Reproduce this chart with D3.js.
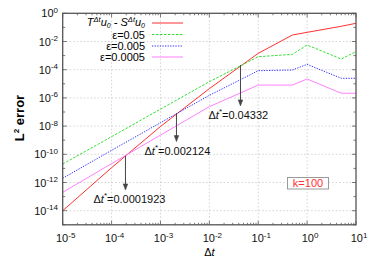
<!DOCTYPE html>
<html><head><meta charset="utf-8">
<script src="https://cdn.jsdelivr.net/npm/d3@7"></script>
<style>
body{margin:0;background:#fff;}
text{font-family:"Liberation Sans",Arial,sans-serif;}
</style></head>
<body><svg id="c" width="374" height="262"></svg>
<script>
// ---- data ----
const dt = [1e-5, 1e-4, 1e-3, 1e-2, 1e-1, 0.5, 1, 5, 10];
const errTS   = [-14.0, -10.95, -8.03, -5.34, -2.84, -1.54, -1.35, -0.92, -0.71].map(v => Math.pow(10, v));
const errE05  = [-10.69, -8.75, -6.8, -4.85, -3.08, -2.91, -2.25, -3.24, -2.72].map(v => Math.pow(10, v));
const errE005 = [-11.7, -9.72, -7.76, -5.82, -4.07, -4.02, -3.62, -4.61, -4.61].map(v => Math.pow(10, v));
const errE0005= [-12.7, -10.66, -8.64, -6.62, -5.09, -5.09, -4.66, -5.67, -5.67].map(v => Math.pow(10, v));
const legLabels = ["ε=0.05", "ε=0.005", "ε=0.0005"];
const crossDt = [0.0001923, 0.002124, 0.04332];
const crossErr = [-10.1, -7.09, -3.67].map(v => Math.pow(10, v));
const arrowEnd = [-12.53, -9.1, -6.57].map(v => Math.pow(10, v));
const crossLabels = ["0.0001923", "0.002124", "0.04332"];
const xTickExp = [-5, -4, -3, -2, -1, 0, 1];
const yTickExp = [0, -2, -4, -6, -8, -10, -12, -14];

// ---- layout ----
const svg = d3.select("#c");
const L = 62.7, R = 356, T = 13.3, B = 224.8;
const x = d3.scaleLog().domain([1e-5, 10]).range([L, R]);
const y = d3.scaleLog().domain([1e-15, 1]).range([B, T]);
const axisCol = "#555";

// grid
const grid = svg.append("g").attr("stroke", "#c8c8c8").attr("stroke-width", 0.8).attr("stroke-dasharray", "1.5,2");
xTickExp.slice(1, -1).forEach(e => grid.append("line").attr("x1", x(Math.pow(10, e))).attr("x2", x(Math.pow(10, e))).attr("y1", T).attr("y2", B));
yTickExp.slice(1).forEach(e => grid.append("line").attr("x1", L).attr("x2", R).attr("y1", y(Math.pow(10, e))).attr("y2", y(Math.pow(10, e))));

// ticks (inward, all four sides)
const tk = svg.append("g").attr("stroke", axisCol).attr("stroke-width", 0.8);
for (let e = -5; e <= 1; e++) {
  for (let m = 1; m <= 9; m++) {
    const v = m * Math.pow(10, e);
    if (v > 10) break;
    const len = m === 1 ? 4 : 2;
    const xp = x(v);
    tk.append("line").attr("x1", xp).attr("x2", xp).attr("y1", B).attr("y2", B - len);
    tk.append("line").attr("x1", xp).attr("x2", xp).attr("y1", T).attr("y2", T + len);
  }
}
for (let e = -15; e <= 0; e++) {
  const yp = y(Math.pow(10, e));
  const len = (e % 2 === 0) ? 4 : 2.5;
  tk.append("line").attr("x1", L).attr("x2", L + len).attr("y1", yp).attr("y2", yp);
  tk.append("line").attr("x1", R).attr("x2", R - len).attr("y1", yp).attr("y2", yp);
}

// series
svg.append("clipPath").attr("id", "pc").append("rect").attr("x", L).attr("y", T).attr("width", R - L).attr("height", B - T);
const line = d3.line().x(d => x(d[0])).y(d => y(d[1]));
const series = [
  {vals: errTS, color: "#ff3030", dash: null, w: 1},
  {vals: errE05, color: "#30e030", dash: "2.5,1.5", w: 1},
  {vals: errE005, color: "#3030ff", dash: "1.3,1.3", w: 1},
  {vals: errE0005, color: "#ff80ff", dash: null, w: 1}
];
const pg = svg.append("g").attr("clip-path", "url(#pc)");
series.forEach(s => {
  pg.append("path").datum(dt.map((d, i) => [d, s.vals[i]]))
    .attr("d", line).attr("fill", "none").attr("stroke", s.color)
    .attr("stroke-width", s.w).attr("stroke-dasharray", s.dash);
});

// frame
svg.append("rect").attr("x", L).attr("y", T).attr("width", R - L).attr("height", B - T)
  .attr("fill", "none").attr("stroke", axisCol).attr("stroke-width", 1.3);

// tick labels
function pow10(sel, e, anchor) {
  const t = sel.append("text").attr("font-size", 11).attr("fill", "#111").attr("text-anchor", anchor);
  t.append("tspan").text("10");
  t.append("tspan").attr("font-size", 8).attr("dy", -4.5).text(e);
  return t;
}
xTickExp.forEach(e => {
  pow10(svg, e, "middle").attr("x", x(Math.pow(10, e)) + 3).attr("y", 242);
});
yTickExp.forEach(e => {
  pow10(svg, e, "end").attr("x", 58).attr("y", y(Math.pow(10, e)) + 4);
});

// axis titles
const xt = svg.append("text").attr("x", (L + R) / 2).attr("y", 256).attr("text-anchor", "middle").attr("font-size", 11);
xt.append("tspan").text("Δ");
xt.append("tspan").attr("font-style", "italic").text("t");
const yt = svg.append("text").attr("transform", "translate(24,118) rotate(-90)").attr("text-anchor", "middle")
  .attr("font-size", 13).attr("font-weight", "bold");
yt.append("tspan").text("L");
yt.append("tspan").attr("font-size", 8).attr("dy", -5).text("2");
yt.append("tspan").attr("dy", 5).text(" error");

// legend
const legY = [23, 34.5, 46, 57];
const lg = svg.append("g");
const t0 = lg.append("text").attr("x", 145).attr("y", legY[0] + 3).attr("text-anchor", "end").attr("font-size", 11).attr("font-style", "italic");
t0.append("tspan").text("T");
t0.append("tspan").attr("font-size", 7.5).attr("dy", -4.5).text("Δt");
t0.append("tspan").attr("dy", 4.5).text("u");
t0.append("tspan").attr("font-size", 7).attr("dy", 1.5).text("0");
t0.append("tspan").attr("dy", -1.5).text(" - S");
t0.append("tspan").attr("font-size", 7.5).attr("dy", -4.5).text("Δt");
t0.append("tspan").attr("dy", 4.5).text("u");
t0.append("tspan").attr("font-size", 7).attr("dy", 1.5).text("0");
legLabels.forEach((l, i) => {
  lg.append("text").attr("x", 145).attr("y", legY[i + 1] + 4).attr("text-anchor", "end").attr("font-size", 11).text(l);
});
series.forEach((s, i) => {
  lg.append("line").attr("x1", 152).attr("x2", 183).attr("y1", legY[i]).attr("y2", legY[i])
    .attr("stroke", s.color).attr("stroke-width", s.w).attr("stroke-dasharray", s.dash);
});

// arrows and labels
const ag = svg.append("g");
crossDt.forEach((c, i) => {
  const xp = x(c), y1 = y(crossErr[i]), y2 = y(arrowEnd[i]);
  ag.append("line").attr("x1", xp).attr("x2", xp).attr("y1", y1).attr("y2", y2 - 4).attr("stroke", "#444").attr("stroke-width", 1);
  ag.append("path").attr("d", `M${xp - 2.2},${y2 - 6} L${xp},${y2} L${xp + 2.2},${y2 - 6} Z`).attr("fill", "#444").attr("stroke", "#444").attr("stroke-width", 0.6);
  const tl = ag.append("text").attr("x", xp - 32).attr("y", y2 + 13).attr("font-size", 11).attr("fill", "#111");
  tl.append("tspan").text("Δ");
  tl.append("tspan").attr("font-style", "italic").text("t");
  tl.append("tspan").attr("font-size", 8).attr("dy", -5).text("*");
  tl.append("tspan").attr("dy", 5).text("=" + crossLabels[i]);
});

// k=100 box
svg.append("rect").attr("x", 287.5).attr("y", 177.5).attr("width", 41).attr("height", 11.5)
  .attr("fill", "#fff").attr("stroke", "#999").attr("stroke-width", 1);
svg.append("text").attr("x", 308).attr("y", 187).attr("text-anchor", "middle").attr("font-size", 11).attr("fill", "#ff3030").text("k=100");
</script></body></html>
